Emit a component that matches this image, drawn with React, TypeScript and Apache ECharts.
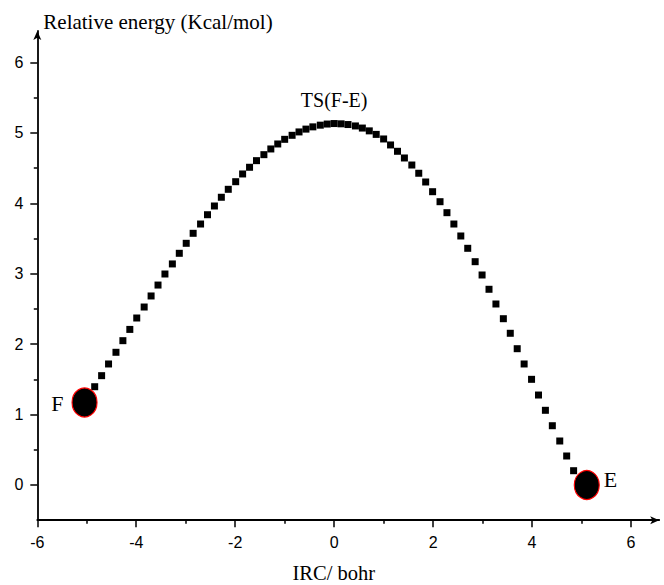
import React, { useEffect, useRef } from 'react';
import * as echarts from 'echarts';

// IRC coordinate (bohr) of each computed point
const ircCoord = [
  -4.84, -4.70, -4.56, -4.41, -4.27, -4.13, -3.99, -3.84, -3.70, -3.56,
  -3.42, -3.27, -3.13, -2.99, -2.85, -2.70, -2.56, -2.42, -2.28, -2.14,
  -1.99, -1.85, -1.71, -1.57, -1.42, -1.28, -1.14, -1.00, -0.85, -0.71,
  -0.57, -0.43, -0.28, -0.14, 0.00, 0.14, 0.28, 0.43, 0.57, 0.71,
  0.85, 1.00, 1.14, 1.28, 1.42, 1.57, 1.71, 1.85, 1.99, 2.14,
  2.28, 2.42, 2.56, 2.70, 2.85, 2.99, 3.13, 3.27, 3.42, 3.56,
  3.70, 3.84, 3.99, 4.13, 4.27, 4.41, 4.56, 4.70, 4.84,
];

// Relative energy (Kcal/mol) of each computed point
const relEnergy = [
  1.396, 1.553, 1.719, 1.885, 2.050, 2.210, 2.372, 2.528, 2.685, 2.840,
  2.997, 3.140, 3.291, 3.433, 3.575, 3.707, 3.839, 3.963, 4.087, 4.200,
  4.308, 4.418, 4.513, 4.607, 4.692, 4.773, 4.844, 4.910, 4.967, 5.015,
  5.055, 5.087, 5.111, 5.127, 5.134, 5.130, 5.120, 5.100, 5.070, 5.030,
  4.980, 4.915, 4.830, 4.740, 4.645, 4.545, 4.428, 4.304, 4.166, 4.024,
  3.868, 3.707, 3.537, 3.362, 3.172, 2.983, 2.780, 2.571, 2.362, 2.155,
  1.936, 1.719, 1.501, 1.278, 1.061, 0.842, 0.625, 0.412, 0.203,
];

// Stationary points (reactant F and product E)
const stationaryNames = ['F', 'E'];
const stationaryIrc = [-5.045, 5.106];
const stationaryEnergy = [1.172, 0.0];

const tsName = 'TS(F-E)';

// Tick labels
const xMajorTicks = [-6, -4, -2, 0, 2, 4, 6];
const xMinorTicks = [-5, -3, -1, 1, 3, 5];
const yMajorTicks = [0, 1, 2, 3, 4, 5, 6];
const yMinorTicks = [0.5, 1.5, 2.5, 3.5, 4.5, 5.5];

const X_MIN = -6;
const X_MAX = 6.57;
const Y_MIN = -0.5;
const Y_MAX = 6.45;

const SANS = '"Liberation Sans", Arial, sans-serif';
const SERIF = '"Liberation Serif", "Times New Roman", serif';
const INK = '#000000';

export default function App() {
  const ref = useRef<HTMLDivElement>(null);

  useEffect(() => {
    if (!ref.current) return;
    const chart = echarts.init(ref.current, undefined, { renderer: 'svg' });

    let peakIdx = 0;
    relEnergy.forEach((v, i) => {
      if (v > relEnergy[peakIdx]) peakIdx = i;
    });

    const curveData = ircCoord.map((x, i) => {
      const item: any = { value: [x, relEnergy[i]] };
      if (i === peakIdx) {
        item.label = {
          show: true,
          formatter: tsName,
          position: 'top',
          distance: 10,
          fontFamily: SERIF,
          fontSize: 20,
          color: INK,
        };
      }
      return item;
    });

    const stationaryData = stationaryNames.map((n, i) => ({
      name: n,
      value: [stationaryIrc[i], stationaryEnergy[i]],
      label: {
        show: true,
        formatter: '{b}',
        position: i === 0 ? 'left' : 'right',
        distance: i === 0 ? 8 : 4,
        offset: i === 0 ? [0, 1] : [0, -5],
        fontFamily: SERIF,
        fontSize: 22,
        color: INK,
      },
    }));

    const axisLineStyle = { color: INK, width: 1.8 };

    chart.setOption({
      animation: false,
      backgroundColor: '#ffffff',
      grid: {
        left: 37.3,
        right: 4.8,
        top: 30.9,
        bottom: 64.8,
        containLabel: false,
        outerBoundsMode: 'none',
      },
      xAxis: [
        {
          type: 'value',
          position: 'bottom',
          min: X_MIN,
          max: X_MAX,
          axisLine: {
            show: true,
            onZero: false,
            symbol: ['none', 'arrow'],
            symbolSize: [6, 9],
            lineStyle: axisLineStyle,
          },
          axisTick: {
            show: true,
            customValues: xMajorTicks,
            length: 7,
            lineStyle: { color: INK, width: 1.5 },
          },
          axisLabel: {
            show: true,
            customValues: xMajorTicks,
            margin: 14,
            fontFamily: SANS,
            fontSize: 16,
            color: INK,
          },
          splitLine: { show: false },
          name: 'IRC/ bohr',
          nameLocation: 'middle',
          nameGap: 43,
          nameTextStyle: {
            fontFamily: SERIF,
            fontSize: 20.5,
            lineHeight: 20,
            color: INK,
            padding: [0, 29, 0, 0],
          },
        },
        {
          type: 'value',
          position: 'bottom',
          min: X_MIN,
          max: X_MAX,
          axisLine: { show: false, onZero: false },
          axisTick: {
            show: true,
            customValues: xMinorTicks,
            length: 3.5,
            lineStyle: { color: INK, width: 1.5 },
          },
          axisLabel: { show: false },
          splitLine: { show: false },
        },
      ],
      yAxis: [
        {
          type: 'value',
          position: 'left',
          min: Y_MIN,
          max: Y_MAX,
          axisLine: {
            show: true,
            onZero: false,
            symbol: ['none', 'arrow'],
            symbolSize: [6, 9],
            lineStyle: axisLineStyle,
          },
          axisTick: {
            show: true,
            customValues: yMajorTicks,
            length: 7,
            lineStyle: { color: INK, width: 1.5 },
          },
          axisLabel: {
            show: true,
            customValues: yMajorTicks,
            margin: 14,
            fontFamily: SANS,
            fontSize: 16,
            color: INK,
          },
          splitLine: { show: false },
          name: 'Relative energy (Kcal/mol)',
          nameLocation: 'end',
          nameGap: 9,
          nameTextStyle: {
            align: 'left',
            verticalAlign: 'middle',
            fontFamily: SERIF,
            fontSize: 21,
            color: INK,
            padding: [0, 0, 0, 6],
          },
        },
        {
          type: 'value',
          position: 'left',
          min: Y_MIN,
          max: Y_MAX,
          axisLine: { show: false, onZero: false },
          axisTick: {
            show: true,
            customValues: yMinorTicks,
            length: 3.5,
            lineStyle: { color: INK, width: 1.5 },
          },
          axisLabel: { show: false },
          splitLine: { show: false },
        },
      ],
      series: [
        {
          name: 'IRC',
          type: 'scatter',
          xAxisIndex: 0,
          yAxisIndex: 0,
          symbol: 'rect',
          symbolSize: 7,
          itemStyle: { color: INK, opacity: 1 },
          data: curveData,
          z: 3,
        },
        {
          name: 'Stationary',
          type: 'scatter',
          xAxisIndex: 0,
          yAxisIndex: 0,
          symbol: 'circle',
          symbolSize: [25, 29],
          itemStyle: { color: INK, borderColor: '#ff0000', borderWidth: 1.2, opacity: 1 },
          data: stationaryData,
          z: 4,
        },
      ],
    });

    return () => {
      chart.dispose();
    };
  }, []);

  return (
    <div
      ref={ref}
      style={{ position: 'fixed', left: 0, top: 0, width: 664, height: 585, background: '#fff' }}
    />
  );
}
